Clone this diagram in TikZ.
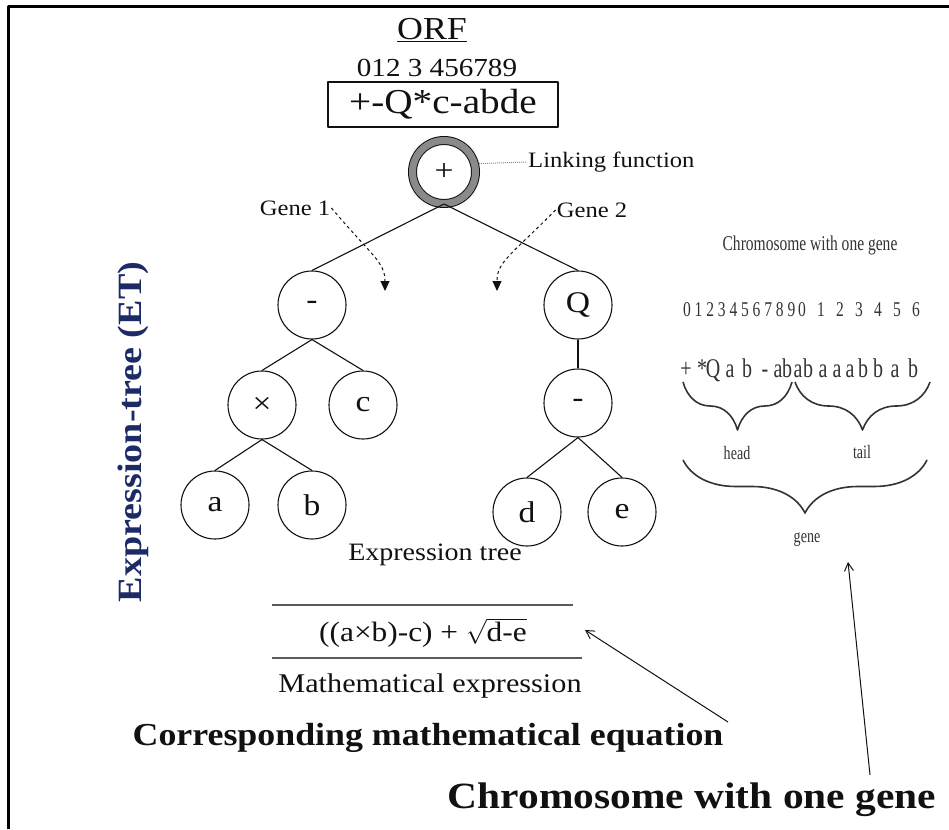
\documentclass[tikz,border=0pt]{standalone}
\usepackage{fontspec}
\setmainfont{Liberation Serif}[FakeStretch=1.12]
\newfontfamily\narrowfont{Liberation Serif}[FakeStretch=0.74]
\usetikzlibrary{
  arrows.meta,
  positioning,
  decorations.pathreplacing,
}
\definecolor{ink}{HTML}{111111}
\definecolor{ringgray}{HTML}{8A8A8A}
\definecolor{rulegray}{HTML}{5A5A5A}
\definecolor{chromgray}{HTML}{333333}
\definecolor{etnavy}{HTML}{1C2A66}
\newcommand{\setfs}[1]{\fontsize{#1}{#1}\selectfont}
\tikzset{
  gep/.style={
    x=1pt, y=-1pt,
    line join=round,
    font=\setfs{22},
    text=ink,
  },
  treenode/.style={
    circle,
    draw=ink,
    line width=1.1pt,
    minimum size=68pt,
    inner sep=0pt,
    font=\setfs{30},
  },
  rootnode/.style={
    circle,
    draw=ink,
    line width=1pt,
    double=ringgray,
    double distance=7pt,
    minimum size=63pt,
    inner sep=0pt,
    font=\setfs{30},
  },
  orfbox/.style={
    draw=ink,
    line width=2pt,
    minimum width=230pt,
    minimum height=45pt,
    inner sep=0pt,
    font=\setfs{35},
  },
  lab/.style={
    font=\setfs{22},
    inner sep=1pt,
  },
  chrom/.style={
    font=\narrowfont\setfs{21},
    text=chromgray,
    inner sep=0pt,
  },
  bigbold/.style={
    font=\bfseries\setfs{#1},
    inner sep=0pt,
  },
  edge/.style={draw=ink, line width=1.1pt},
  linkdot/.style={draw=ringgray, densely dotted, line width=1pt},
  genepipe/.style={
    draw=ink, dashed, line width=1pt,
    -{Triangle[length=10pt, width=9pt]},
  },
  callout/.style={
    draw=ink, line width=1pt,
    -{Straight Barb[length=8pt, width=9pt]},
  },
  hbrace/.style={
    decorate,
    decoration={brace, mirror, amplitude=#1},
    draw=chromgray,
    line width=1.6pt,
  },
  eqrule/.style={draw=rulegray, line width=1.6pt},
}

\begin{document}
\begin{tikzpicture}[gep]
  \useasboundingbox (0,0) rectangle (949,829);

  % open frame: top and left only
  \draw[line width=3pt] (8,829) -- (8,7) -- (949,7);

  \node[inner sep=0pt, font=\setfs{32}] (orf) at (432,30) {\underline{ORF}};
  \node[lab, font=\setfs{26}] (orfpos) at (437,68) {012 3 456789};
  \node[orfbox] (orfseq) at (443,104.5) {+-Q*c-abde};

  % expression tree
  \node[rootnode] (root) at (444,172) {+};
  \node[lab, anchor=west] (link) at (527,162) {Linking function};
  \draw[linkdot] (root.15) -- (link.west);

  \node[treenode] (m1) at (312,305) {-};
  \node[treenode] (mul) at (262,405) {×};
  \node[treenode] (c) at (363,405) {c};
  \node[treenode] (a) at (215,505) {a};
  \node[treenode] (b) at (312,505) {b};

  \node[treenode] (q) at (578,305) {Q};
  \node[treenode] (m2) at (578,403) {-};
  \node[treenode] (d) at (527,512) {d};
  \node[treenode] (e) at (622,512) {e};

  \draw[edge] (root.south) -- (m1.north);
  \draw[edge] (root.south) -- (q.north);
  \draw[edge] (m1.south) -- (mul.north);
  \draw[edge] (m1.south) -- (c.north);
  \draw[edge] (mul.south) -- (a.north);
  \draw[edge] (mul.south) -- (b.north);
  \draw[edge] (q.south) -- (m2.north);
  \draw[edge] (m2.south) -- (d.north);
  \draw[edge] (m2.south) -- (e.north);

  \node[lab] (gene1) at (295,208) {Gene 1};
  \node[lab] (gene2) at (592,210) {Gene 2};
  \coordinate (g1tip) at (385,291);
  \coordinate (g2tip) at (497,291);
  \draw[genepipe] (gene1.east) .. controls (372,256) and (385,262) .. (g1tip);
  \draw[genepipe] (gene2.west) .. controls (510,256) and (497,262) .. (g2tip);

  \node[lab, font=\setfs{25}] (etlab) at (435,555) {Expression tree};

  % mathematical expression between two rules
  \draw[eqrule] (272,605) -- (573,605);
  \node[inner sep=0pt, font=\setfs{28}] (eq) at (423,633)
    {((a×b)-c) + $\sqrt{\mbox{d-e}}$};
  \draw[eqrule] (272,658) -- (582,658);
  \node[lab, font=\setfs{27}] (mexp) at (430,686) {Mathematical expression};

  \node[bigbold=32] (cme) at (428,738) {Corresponding mathematical equation};
  \node[bigbold=37] (cog) at (692,800) {Chromosome with one gene};

  \node[bigbold=34, text=etnavy, rotate=90] (et) at (133,432) {Expression-tree (ET)};

  % chromosome with one gene
  \node[chrom] (ctitle) at (810,245) {Chromosome with one gene};
  \foreach \d [count=\i from 0] in {0,1,...,9}
    \node[chrom, anchor=base] (p\i) at (687+11.6*\i,316) {\d};
  \foreach \d [count=\i from 0] in {0,1,...,6}
    \node[chrom, anchor=base] (r\i) at (802+19*\i,316) {\d};
  \foreach \s/\x [count=\i] in {+/686, */702, Q/713, a/730, b/747, -/765, a/778, b/787,
      a/798, b/808, a/823, a/837, a/850, b/863, b/878, a/895, b/913}
    \node[chrom, anchor=base, font=\narrowfont\setfs{27}] (s\i) at (\x,377) {\s};

  \draw[hbrace=48] (683,382) -- (792,382);
  \draw[hbrace=48] (795,382) -- (930,382);
  \draw[hbrace=53] (683,460) -- (927,460);
  \node[chrom, font=\narrowfont\setfs{19}] (head) at (737,453) {head};
  \node[chrom, font=\narrowfont\setfs{19}] (tail) at (862,452) {tail};
  \node[chrom, font=\narrowfont\setfs{19}] (gene) at (807,540) {gene};

  % callouts
  \coordinate (eqtail) at (728,722);
  \coordinate (eqhead) at (585,630);
  \draw[callout] (eqtail) -- (eqhead);
  \coordinate (cogtail) at (870,775);
  \coordinate (cogtip) at (848,562);
  \draw[callout] (cogtail) -- (cogtip);
\end{tikzpicture}
\end{document}
